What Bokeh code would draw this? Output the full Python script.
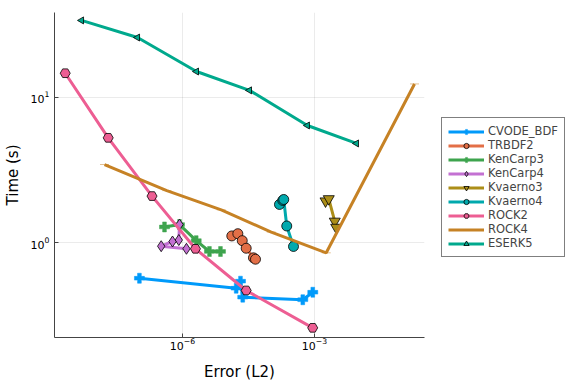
import math
from bokeh.plotting import figure
from bokeh.models import Legend, LegendItem, FixedTicker, Range1d
from bokeh.embed import file_html
from bokeh.resources import INLINE

# ---- data (error, time) ----
cvode_err = [1.05e-7, 1.66e-5, 2.08e-5, 2.34e-5, 5.42e-4, 9.14e-4]
cvode_t = [0.567, 0.484, 0.541, 0.420, 0.403, 0.454]

trbdf2_err = [1.32e-5, 1.81e-5, 2.28e-5, 2.8e-5, 4.1e-5, 4.56e-5]
trbdf2_t = [1.11, 1.15, 1.03, 0.913, 0.784, 0.767]

kencarp3_err = [3.9e-7, 8.55e-7, 2.05e-6, 4.1e-6, 7.3e-6]
kencarp3_t = [1.28, 1.33, 1.03, 0.867, 0.867]

kencarp4_err = [8.55e-7, 8.24e-7, 5.93e-7, 3.28e-7, 1.23e-6]
kencarp4_t = [1.33, 1.04, 1.016, 0.943, 0.905]

kvaerno3_err = [1.78e-3, 2.11e-3, 2.89e-3, 3.11e-3]
kvaerno3_t = [1.93, 2.00, 1.40, 1.27]

kvaerno4_err = [1.6e-4, 1.9e-4, 2.0e-4, 2.34e-4, 3.33e-4]
kvaerno4_t = [1.83, 1.95, 1.98, 1.30, 0.939]

rock2_err = [2.16e-9, 2.05e-8, 2.03e-7, 1.97e-6, 2.8e-5, 9.1e-4]
rock2_t = [14.7, 5.27, 2.09, 0.905, 0.467, 0.258]

rock4_err = [1.69e-8, 4.4e-7, 7.6e-6, 1.04e-4, 1.85e-3, 0.1875]
rock4_t = [3.45, 2.28, 1.68, 1.18, 0.849, 12.4]

eserk5_err = [5.07e-9, 9.5e-8, 2.08e-6, 3.33e-5, 6.9e-4, 9.0e-3]
eserk5_t = [34.0, 25.9, 15.1, 11.2, 6.41, 4.82]

x_ticks = [1e-6, 1e-3]
y_ticks = [1.0, 10.0]

series = [
    ("CVODE_BDF", cvode_err, cvode_t, "#009AFA", "plus", 10, 0.0, False),
    ("TRBDF2", trbdf2_err, trbdf2_t, "#E36F47", "circle", 10, 0.0, True),
    ("KenCarp3", kencarp3_err, kencarp3_t, "#3EA44E", "plus", 10, 0.0, False),
    ("KenCarp4", kencarp4_err, kencarp4_t, "#C371D2", "diamond", 11, 0.0, True),
    ("Kvaerno3", kvaerno3_err, kvaerno3_t, "#AC8E18", "inverted_triangle", 11, 0.0, True),
    ("Kvaerno4", kvaerno4_err, kvaerno4_t, "#00A9AD", "circle", 10, 0.0, True),
    ("ROCK2", rock2_err, rock2_t, "#ED5E93", "hex", 10, 0.0, True),
    ("ROCK4", rock4_err, rock4_t, "#C68225", "dash", 9, 0.0, False),
    ("ESERK5", eserk5_err, eserk5_t, "#00A98D", "triangle", 7, math.pi / 2, True),
]

FONT = "DejaVu Sans"

p = figure(width=560, height=376, frame_width=370, frame_height=325,
           x_axis_type="log", y_axis_type="log",
           output_backend="svg", toolbar_location=None,
           x_range=Range1d(10 ** -8.909, 10 ** -0.5),
           y_range=Range1d(10 ** -0.655, 10 ** 1.586),
           min_border_left=47, min_border_right=143, min_border_top=12,
           min_border_bottom=39)
p.outline_line_color = None
p.background_fill_color = "white"

items = []
for name, xs, ys, col, marker, size, ang, outline in series:
    lr = p.line(xs, ys, line_color=col, line_width=3)
    sr = p.scatter(xs, ys, marker=marker, size=size, angle=ang,
                   fill_color=col,
                   line_color="black" if outline else col,
                   line_width=0.8 if outline else 0.5)
    items.append(LegendItem(label=name, renderers=[lr, sr]))

for ax, ticks in ((p.xaxis, x_ticks), (p.yaxis, y_ticks)):
    ax.ticker = FixedTicker(ticks=ticks, minor_ticks=[])
    ax.major_tick_in = 4
    ax.major_tick_out = 0
    ax.minor_tick_in = 0
    ax.minor_tick_out = 0
    ax.axis_line_color = "#444444"
    ax.major_tick_line_color = "#444444"
    ax.major_label_text_font = FONT
    ax.major_label_text_font_size = "11px"
    ax.major_label_text_color = "black"
    ax.axis_label_text_font = FONT
    ax.axis_label_text_font_size = "15px"
    ax.axis_label_text_font_style = "normal"
    ax.axis_label_text_color = "black"

p.xaxis.major_label_standoff = 0
p.xaxis.axis_label = "Error (L2)"
p.yaxis.axis_label = "Time (s)"
p.xaxis.axis_label_standoff = 10
p.yaxis.axis_label_standoff = 6

p.xgrid.ticker = FixedTicker(ticks=x_ticks)
p.ygrid.ticker = FixedTicker(ticks=y_ticks)
for g in (p.xgrid, p.ygrid):
    g.grid_line_color = "black"
    g.grid_line_alpha = 0.08
    g.grid_line_width = 1

legend = Legend(items=items, location=(17, 80), margin=0,
                glyph_width=36, glyph_height=13, label_height=13,
                label_standoff=4, spacing=0, padding=6,
                label_text_font=FONT, label_text_font_size="11.5px",
                border_line_color="black", border_line_width=1,
                background_fill_color="white", background_fill_alpha=1.0)
p.add_layout(legend, "right")

open("out.html", "w").write(file_html(p, INLINE))
